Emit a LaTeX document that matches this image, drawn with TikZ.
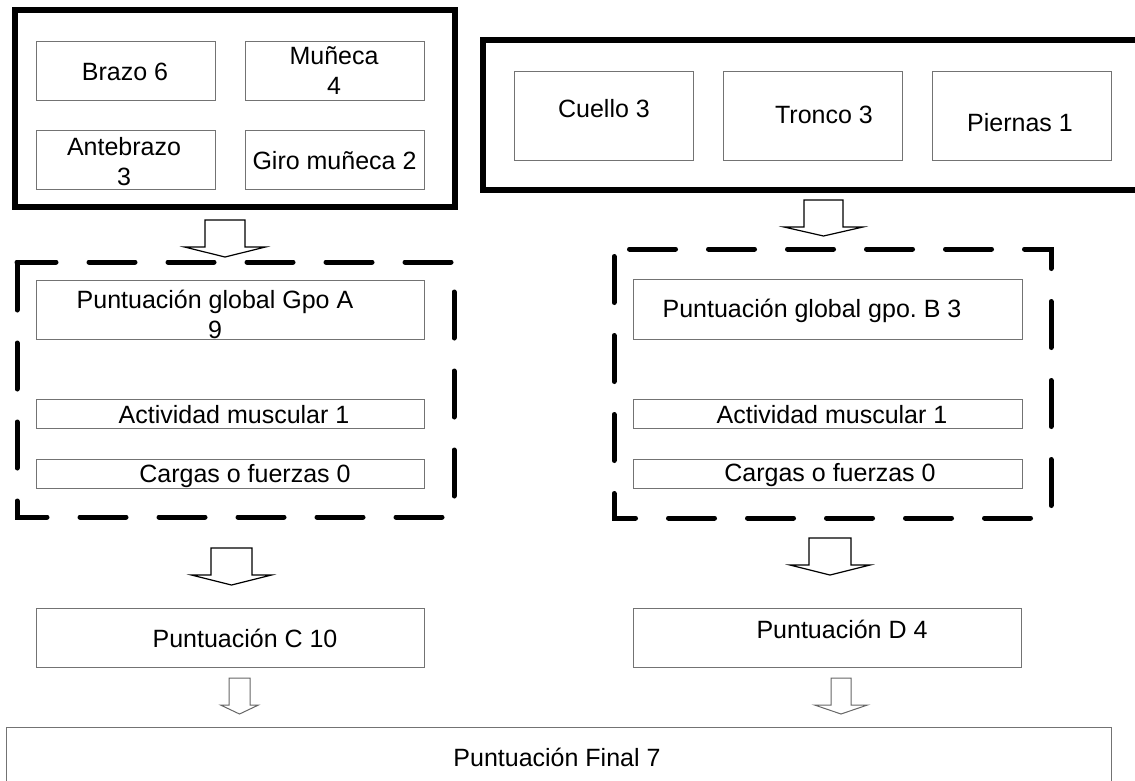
\documentclass[tikz,border=0pt]{standalone}
\usepackage{fontspec}
\setmainfont{Liberation Sans}

% flecha de bloque: [estilo] centro x, y arriba, medio ancho cuerpo, medio ancho punta, y punta base, y punta
\newcommand{\flecha}[7][]{%
  \draw[bloque,#1] ({#2-#4},#3) -- ({#2+#4},#3) -- ({#2+#4},#6) -- ({#2+#5},#6)
    -- (#2,#7) -- ({#2-#5},#6) -- ({#2-#4},#6) -- cycle;}

\begin{document}
\begin{tikzpicture}[x=1pt, y=-1pt]

    \tikzstyle{caja}=[draw=black!55, line width=1pt, inner sep=0pt, minimum width=179pt, minimum height=59pt]
    \tikzstyle{larga}=[caja, minimum width=388pt, minimum height=29pt]
    \tikzstyle{texto}=[font=\fontsize{25}{30}\selectfont, inner sep=0pt, anchor=base, align=center]
    \tikzstyle{marco}=[line width=6pt]
    \tikzstyle{grupo}=[line width=5pt, line cap=round, dash pattern=on 46pt off 33pt]
    \tikzstyle{bloque}=[draw=black, line width=1.2pt, fill=white]

    \useasboundingbox (0,0) rectangle (1135,780);

    % grupo A
    \draw[marco] (15,10) rectangle (455,207);
    \node[caja] (brazo)     at (125.5,70.5)  {};
    \node[caja] (muneca)    at (334.5,70.5)  {};
    \node[caja] (antebrazo) at (125.5,159.5) {};
    \node[caja] (giro)      at (334.5,159.5) {};
    \node[texto] (tbrazo) at (125,80)    {Brazo 6};
    \node[texto] (tmuneca) at (334,94)   {Muñeca\\4};
    \node[texto] (tante) at (124,185)    {Antebrazo\\3};
    \node[texto] (tgiro) at (334.5,169)  {Giro muñeca 2};

    % grupo B
    \draw[marco] (483,40) rectangle (1145,190);
    \node[caja, minimum height=89pt] (cuello)  at (603.5,115.5) {};
    \node[caja, minimum height=89pt] (tronco)  at (812.5,115.5) {};
    \node[caja, minimum height=89pt] (piernas) at (1021.5,115.5) {};
    \node[texto] (tcuello) at (604,117)   {Cuello 3};
    \node[texto] (ttronco) at (824,123)   {Tronco 3};
    \node[texto] (tpiernas) at (1020,131) {Piernas 1};

    \flecha{225}{220}{20}{40.5}{247}{257}
    \flecha{823.5}{200}{19.5}{39.5}{227}{236}

    % puntuaciones globales
    \draw[grupo, dash phase=7pt] (17,262) -- (454,262) -- (454,517) -- (17,517) -- cycle;
    \node[larga, minimum height=59pt] (gpoA) at (230,309.5) {};
    \node[larga] (actA)    at (230,413.5) {};
    \node[larga] (cargasA) at (230,473.5) {};
    \node[texto] (tgpoA) at (215,338)  {Puntuación global Gpo A\\9};
    \node[texto] (tactA) at (234,423)  {Actividad muscular 1};
    \node[texto] (tcarA) at (245,482)  {Cargas o fuerzas 0};

    \draw[grupo, dash phase=71.5pt] (614,249) -- (614,518) -- (1051,518) -- (1051,249) -- cycle;
    \node[larga, minimum width=389pt, minimum height=60pt] (gpoB) at (827.5,309) {};
    \node[larga, minimum width=389pt] (actB)    at (827.5,414) {};
    \node[larga, minimum width=389pt] (cargasB) at (827.5,473.5) {};
    \node[texto] (tgpoB) at (812,317)  {Puntuación global gpo.\ B 3};
    \node[texto] (tactB) at (832,423)  {Actividad muscular 1};
    \node[texto] (tcarB) at (830,481)  {Cargas o fuerzas 0};

    \flecha{231.5}{548}{20.5}{40}{575}{585}
    \flecha{830}{538}{21}{40}{565}{575}

    % puntuaciones C y D
    \node[larga, minimum height=59pt] (puntC) at (230,637.5) {};
    \node[larga, minimum height=59pt] (puntD) at (827,637.5) {};
    \node[texto] (tpuntC) at (245,647) {Puntuación C 10};
    \node[texto] (tpuntD) at (842,638) {Puntuación D 4};

    \flecha[draw=black!60, line width=1pt]{239.5}{678}{10.5}{19}{705}{714}
    \flecha[draw=black!60, line width=1pt]{841}{678}{10}{26.5}{705}{714}

    % final
    \node[caja, minimum width=1105pt, minimum height=80pt] (final) at (558.5,767) {};
    \node[texto] (tfinal) at (557,766) {Puntuación Final 7};

\end{tikzpicture}
\end{document}
